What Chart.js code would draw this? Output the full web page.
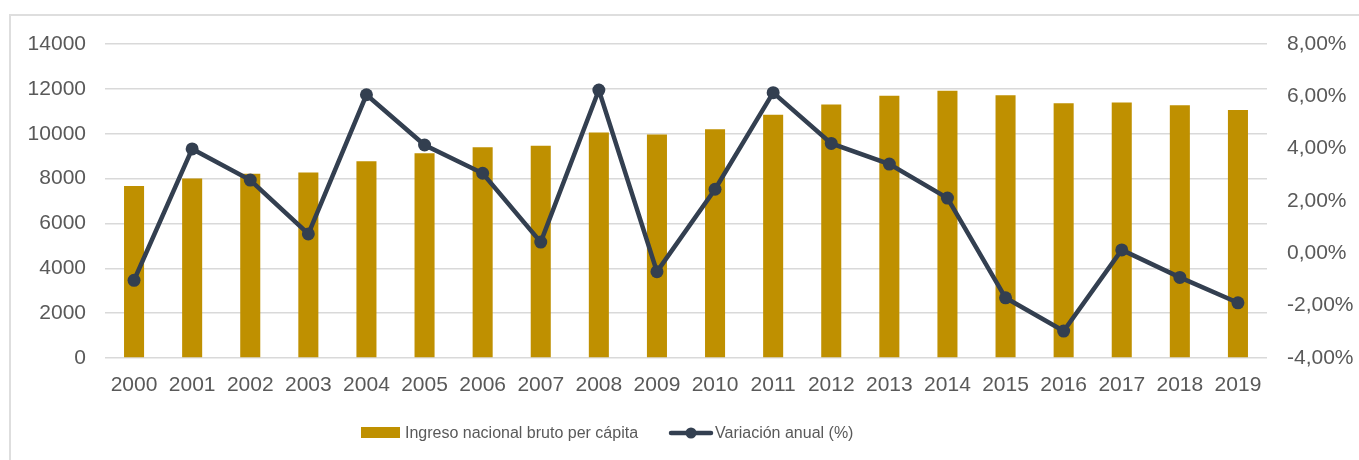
<!DOCTYPE html>
<html>
<head>
<meta charset="utf-8">
<script src="https://cdn.jsdelivr.net/npm/chart.js@4"></script>
<style>
  html, body { margin: 0; padding: 0; background: #fff; }
  #wrap { position: relative; width: 1359px; height: 460px; overflow: hidden; }
  #frame { position: absolute; left: 9px; top: 14px; width: 1400px; height: 500px;
           border-left: 2px solid #dedede; border-top: 2px solid #dedede; }
  #chart { position: absolute; left: 0; top: 0; }
</style>
</head>
<body>
<div id="wrap">
  <div id="frame"></div>
  <canvas id="chart" width="1359" height="460"></canvas>
</div>
<script>
const years = ['2000', '2001', '2002', '2003', '2004', '2005', '2006', '2007', '2008', '2009',
               '2010', '2011', '2012', '2013', '2014', '2015', '2016', '2017', '2018', '2019'];
const ingreso = [7670, 8000, 8210, 8270, 8770, 9130, 9400, 9460, 10050, 9960,
                 10200, 10840, 11300, 11690, 11920, 11710, 11360, 11390, 11270, 11060];
const variacion = [-1.03, 3.99, 2.80, 0.74, 6.06, 4.14, 3.06, 0.43, 6.24, -0.70,
                   2.45, 6.14, 4.20, 3.41, 2.11, -1.70, -2.97, 0.13, -0.92, -1.89];
const leftTicks = { min: 0, max: 14000, step: 2000 };
const rightTicks = { min: -4, max: 8, step: 2 };

const GOLD = '#bf9000';
const NAVY = '#333f50';
const TEXT = '#595959';
const FONT = '"Liberation Sans", Arial, sans-serif';

// legend drawn by hand so it sits where the original one is
const legendPlugin = {
  id: 'handLegend',
  afterDraw(chart) {
    const ctx = chart.ctx;
    const ds = chart.data.datasets;
    const y = 433;
    ctx.save();
    ctx.font = '16px ' + FONT;
    ctx.textBaseline = 'middle';
    ctx.fillStyle = ds[0].backgroundColor;
    ctx.fillRect(361, 427, 39, 11);
    ctx.fillStyle = TEXT;
    ctx.fillText(ds[0].label, 405, y + 1);

    ctx.strokeStyle = ds[1].borderColor;
    ctx.lineWidth = 4.5;
    ctx.lineCap = 'round';
    ctx.beginPath();
    ctx.moveTo(671, y);
    ctx.lineTo(711, y);
    ctx.stroke();
    ctx.fillStyle = ds[1].borderColor;
    ctx.beginPath();
    ctx.arc(691, y, 5.5, 0, Math.PI * 2);
    ctx.fill();
    ctx.fillStyle = TEXT;
    ctx.fillText(ds[1].label, 715, y + 1);
    ctx.restore();
  }
};

new Chart(document.getElementById('chart'), {
  data: {
    labels: years,
    datasets: [
      {
        type: 'bar',
        label: 'Ingreso nacional bruto per cápita',
        data: ingreso,
        backgroundColor: GOLD,
        yAxisID: 'y',
        barPercentage: 0.345,
        categoryPercentage: 1,
        order: 1
      },
      {
        type: 'line',
        label: 'Variación anual (%)',
        data: variacion,
        borderColor: NAVY,
        backgroundColor: NAVY,
        borderWidth: 4.5,
        pointRadius: 6.5,
        pointBackgroundColor: NAVY,
        pointBorderWidth: 0,
        tension: 0,
        yAxisID: 'y1',
        order: 0
      }
    ]
  },
  options: {
    responsive: false,
    animation: false,
    devicePixelRatio: 1,
    layout: { padding: { top: 44, left: 0, right: 0, bottom: 0 } },
    plugins: {
      legend: { display: false },
      tooltip: { enabled: false }
    },
    scales: {
      x: {
        grid: { display: false },
        border: { display: false },
        ticks: {
          color: TEXT, font: { family: FONT, size: 21 },
          padding: 7, maxRotation: 0, autoSkip: false
        },
        afterFit(scale) { scale.height = 102; }
      },
      y: {
        position: 'left',
        min: leftTicks.min, max: leftTicks.max,
        grid: { color: '#d9d9d9', lineWidth: 1.5, drawTicks: false },
        border: { display: false },
        ticks: {
          stepSize: leftTicks.step,
          color: TEXT, font: { family: FONT, size: 21 },
          padding: 19,
          callback: v => String(v)
        },
        afterFit(scale) { scale.width = 105; }
      },
      y1: {
        position: 'right',
        min: rightTicks.min, max: rightTicks.max,
        grid: { display: false, drawTicks: false },
        border: { display: false },
        ticks: {
          stepSize: rightTicks.step,
          color: TEXT, font: { family: FONT, size: 21 },
          padding: 20,
          callback: v => v.toFixed(2).replace('.', ',') + '%'
        },
        afterFit(scale) { scale.width = 92; }
      }
    }
  },
  plugins: [legendPlugin]
});
</script>
</body>
</html>
